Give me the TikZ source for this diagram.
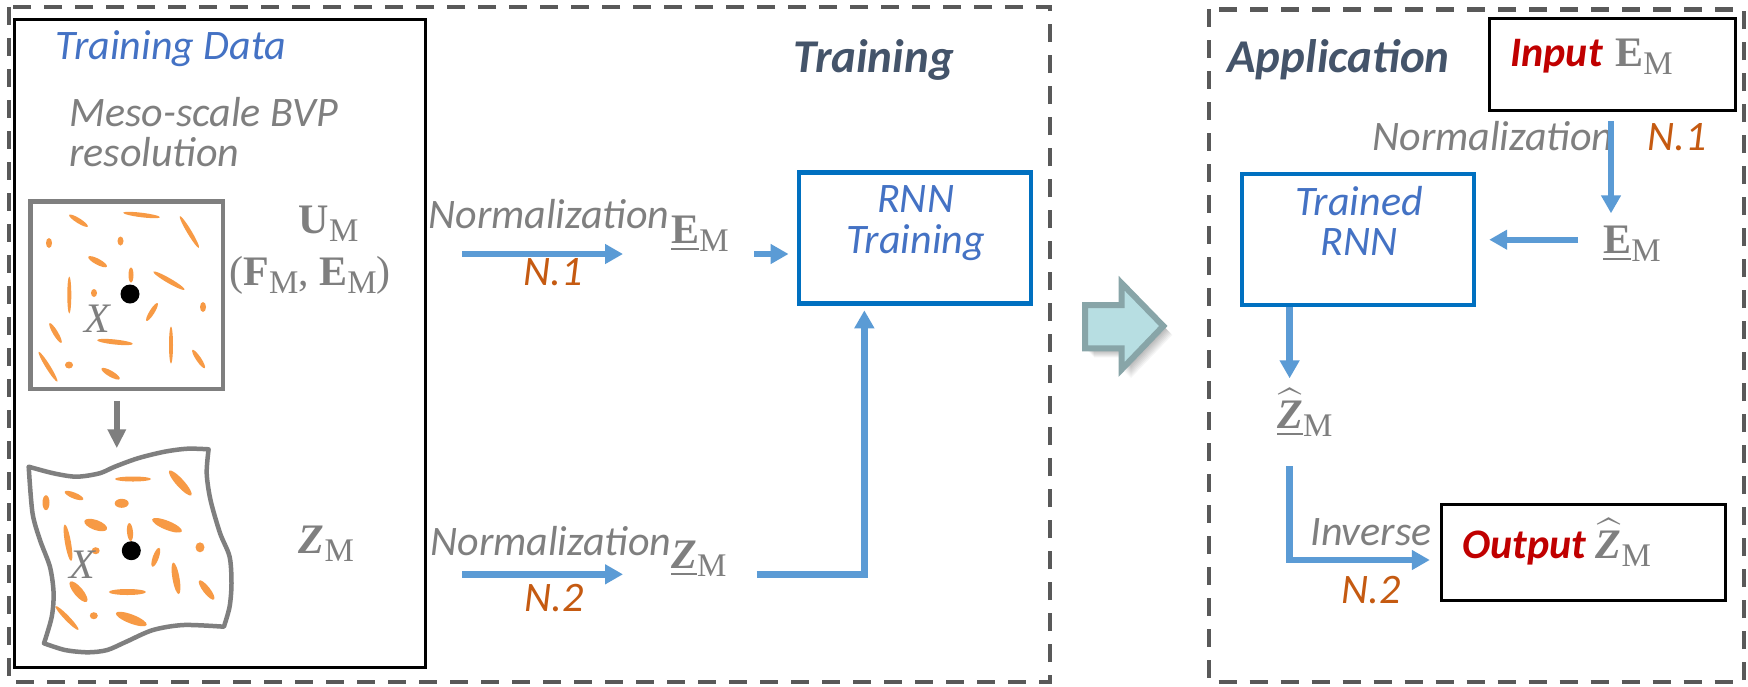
\documentclass[tikz,border=0pt]{standalone}
\usepackage{amsmath}
\usepackage{exscale}
\usepackage{fontspec}
\usetikzlibrary{arrows.meta}
\newfontfamily\calib{Carlito}
\newfontfamily\symrm{Liberation Serif}
% subscript M, set a bit lower than the symbol
\newcommand{\msub}{\raisebox{-4pt}{\fontsize{16.5}{18}\selectfont M}}
\newcommand{\bE}{{\bfseries E}}
\newcommand{\bZ}{{\bfseries\itshape Z}}
\newcommand{\hZ}{$\widehat{\hbox{\bZ}}$}

\definecolor{graytxt}{HTML}{7F7F7F}
\definecolor{bluetxt}{HTML}{4472C4}
\definecolor{orangetxt}{HTML}{C55A11}
\definecolor{arrowblue}{HTML}{5B9BD5}
\definecolor{boxblue}{HTML}{0070C0}
\definecolor{dashgray}{HTML}{595959}
\definecolor{titleslate}{HTML}{44546A}
\definecolor{darkred}{HTML}{C00000}
\definecolor{grainorange}{HTML}{F79A45}
\definecolor{tealfill}{HTML}{B7DEE2}
\definecolor{tealedge}{HTML}{88A5A8}

\tikzset{
  txt/.style={font={\calib\itshape\fontsize{21}{24}\selectfont}, text=graytxt, inner sep=0pt, anchor=base west},
  ntxt/.style={txt, text=orangetxt},
  btxt/.style={txt, text=bluetxt},
  headtxt/.style={txt, font={\calib\bfseries\itshape\fontsize{23.5}{27}\selectfont}, text=titleslate},
  rtxt/.style={txt, font={\calib\bfseries\itshape\fontsize{21}{24}\selectfont}, text=darkred},
  symtxt/.style={font={\symrm\fontsize{21}{24}\selectfont}, text=graytxt, inner sep=0pt, anchor=base west},
  zonebox/.style={draw=dashgray, line width=2.2pt, dash pattern=on 9pt off 6.5pt},
  rnnbox/.style={draw=boxblue, line width=2.2pt, minimum width=116pt, minimum height=65.5pt, inner sep=0pt},
  iobox/.style={draw=black, line width=1.5pt, inner sep=0pt},
  rvebox/.style={draw=graytxt, line width=2.25pt, minimum width=96.2pt, minimum height=93.65pt, inner sep=0pt},
  flowarrow/.style={draw=arrowblue, line width=3.2pt, -{Triangle[width=9.5pt,length=9pt]}},
  grain/.style={fill=grainorange},
}

\begin{document}
\begin{tikzpicture}[x=0.5pt, y=-0.5pt]
\useasboundingbox (0,0) rectangle (1748,686);
\fill[white] (0,0) rectangle (1748,686);

% ---- training side
\draw[zonebox] (9,7) rectangle (1050,682);
\draw[black, line width=1.5pt] (14.5,19.3) rectangle (425.6,667.3);
\node[headtxt] (trtitle) at (793,72.7) {Training};
\node[btxt] (tdata) at (55.5,59) {Training Data};
\node[txt] (meso) at (69,126) {Meso-scale BVP};
\node[txt] (reso) at (69,166) {resolution};

% undeformed cell
\foreach \cx/\cy/\len/\wid/\ang in {78.5/220.7/22/5/32, 141.6/215/37/4.5/7, 189.4/232/37/4.5/59,
    49/243/10/6/90, 120.5/241/9/6/90, 97.6/261.7/21/6/28, 131/275/15/5/90, 169/280.7/36/5/30,
    69.3/295/37/4/90, 94/293/8/6/90, 152/312/21/5/122, 203/307/10/6/90, 55.5/333/23/5/59,
    115/342/36/5/6, 171/345/37/4/90, 198.6/359/22/5/56, 48/366.7/35/4.5/58, 69/365/8/7/0,
    110.6/373.7/21/6/30}
  \fill[grain, rotate around={-\ang:(\cx,\cy)}] (\cx,\cy) ellipse [x radius=\len*0.25pt, y radius=\wid*0.25pt];
\node[rvebox] (rve) at (126.8,295.35) {};
\fill[black] (130,294) circle (4.75pt);
\node[symtxt] (x1) at (84,332) {\itshape X};

\draw[graytxt, line width=3pt, -{Triangle[width=8.8pt,length=9.5pt]}] ([xshift=-5pt,yshift=-5pt]rve.south) -- ++(0,47);

% deformed cell
\foreach \cx/\cy/\len/\wid/\ang in {133/479/36/5/0, 180.3/483/33/8/48, 74/495.5/20/6/22, 46/502.7/15/7/90,
    121.7/503.3/14/9/0, 95.7/525/24/10/20, 167/525.3/32/9/22, 68/542.7/37/6/80, 130/532/18/6/85,
    95.7/550.7/8/7/0, 200/547.3/10/9/90, 155.8/557.3/20/6/110, 176/578.3/32/7/80, 78.5/591.7/26/9/50,
    127.4/592/37/6/0, 206.6/590/24/7/52, 67/618/33/5/46, 93.8/615.7/8/7/0, 131.3/619/33/9/21}
  \fill[grain, rotate around={-\ang:(\cx,\cy)}] (\cx,\cy) ellipse [x radius=\len*0.25pt, y radius=\wid*0.25pt];
\draw[graytxt, line width=2.25pt, line join=round]
  plot[smooth] coordinates {(28.7,466.7) (53.6,473.3) (76.5,476.7) (99.5,473.3) (114.8,466.7) (137.8,458.3) (164.6,451.7) (187.5,448.7) (208.6,449.3)}
  -- plot[smooth] coordinates {(208.6,449.3) (206.7,473.3) (210.5,500) (220,533) (229.6,556.7) (231.5,583.3) (229.6,606.7) (223.9,626.7)}
  -- plot[smooth] coordinates {(223.9,626.7) (183.7,625) (153,630) (126.3,641.7) (107.2,650) (88,652.3) (65,650) (44,643.3)}
  -- plot[smooth] coordinates {(44,643.3) (51.7,617) (53.6,593) (50,567) (40,540) (32.5,513) (28.7,466.7)}
  -- cycle;
\fill[black] (131.3,550.7) circle (4.75pt);
\node[symtxt] (x2) at (69,578) {\itshape X};

\node[symtxt] (um) at (298.5,233) {{\bfseries U}\msub};
\node[symtxt] (fe) at (229,285) {({\bfseries F}\msub, \bE\msub)};
\node[symtxt] (zm) at (298.5,553) {\bZ\msub};

% normalisation of the inputs
\node[txt] (norm1) at (428,228) {Normalization};
\node[ntxt] (n1) at (523,285) {N.1};
\coordinate (n1a) at (462,254);
\coordinate (n1b) at (623,254);
\draw[flowarrow] (n1a) -- (n1b);
\node[symtxt] (em) at (671,243) {\underline{\bE}\msub};

\node[rnnbox] (rnn) at (914.75,237.8) {};
\node[btxt, anchor=base] (rnn1) at (915.6,212.7) {RNN};
\node[btxt, anchor=base] (rnn2) at (915.6,253.3) {Training};
\draw[flowarrow, shorten <=12.5pt, shorten >=4pt] (em.east |- n1a) -- (rnn.west |- n1a);

% normalisation of the outputs
\node[txt] (norm2) at (430,555) {Normalization};
\node[ntxt] (n2) at (524,611) {N.2};
\coordinate (n2a) at (462,574.3);
\coordinate (n2b) at (623,574.3);
\draw[flowarrow] (n2a) -- (n2b);
\node[symtxt] (zu) at (671,568) {\underline{\bZ}\msub};
\draw[flowarrow, shorten <=15pt, shorten >=2.4pt] (zu.east |- n2a) -| ([xshift=-25.2pt]rnn.south);

% training -> application
\foreach \d in {2,3,...,9}
  \fill[black, opacity=0.04, shift={(\d,\d)}]
    (1085,305) -- (1121.7,305) -- (1121.7,283.3) -- (1163.3,326) -- (1121.7,369.3) -- (1121.7,348.3) -- (1085,348.3) -- cycle;
\filldraw[fill=tealfill, draw=tealedge, line width=3pt]
  (1085,305) -- (1121.7,305) -- (1121.7,283.3) -- (1163.3,326) -- (1121.7,369.3) -- (1121.7,348.3) -- (1085,348.3) -- cycle;

% ---- application side
\draw[zonebox] (1209,9.3) rectangle (1744,681.7);
\node[headtxt] (aptitle) at (1227,72.7) {Application};
\node[iobox, minimum width=123.2pt, minimum height=46.2pt] (inp) at (1612.2,64.5) {};
\node[rtxt] (inlbl) at (1510,66.7) {Input};
\node[symtxt] (inem) at (1615,66.7) {\bE\msub};

\node[txt] (norm3) at (1372,150) {Normalization};
\node[ntxt] (n3) at (1647,150) {N.1};
\coordinate (n3b) at (1611,213.3);
\draw[flowarrow, shorten <=4.6pt] (inp.south -| n3b) -- (n3b);
\node[symtxt] (ema) at (1603,253) {\underline{\bE}\msub};

\node[rnnbox] (trained) at (1358,239.7) {};
\node[btxt, anchor=base] (tr1) at (1359,215) {Trained};
\node[btxt, anchor=base] (tr2) at (1359,255) {RNN};
\draw[flowarrow, shorten <=12.5pt, shorten >=6.5pt] (ema.west |- trained.east) -- (trained.east);

\coordinate (zhin) at (1289.6,378.3);
\draw[flowarrow] (trained.south -| zhin) -- (zhin);
\node[symtxt] (zh) at (1277,428) {\underline{\hZ}\msub};

\node[iobox, minimum width=142.1pt, minimum height=48.35pt] (out) at (1583.4,552.4) {};
\coordinate (zhout) at (1289.6,466);
\draw[flowarrow, shorten >=5pt] (zhout) |- ([yshift=-3.8pt]out.west);
\node[txt] (inv) at (1310,545) {Inverse};
\node[ntxt] (n4) at (1341,603) {N.2};
\node[rtxt] (outlbl) at (1462,558.3) {Output};
\node[symtxt] (outz) at (1595.5,558) {\hZ\msub};
\end{tikzpicture}
\end{document}
